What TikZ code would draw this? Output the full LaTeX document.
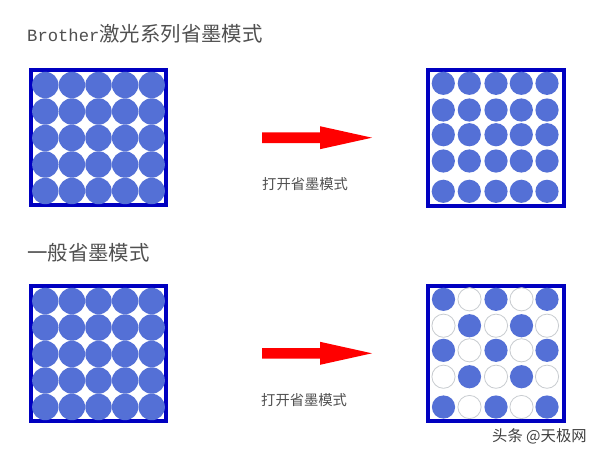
\documentclass[tikz,border=0pt]{standalone}
\usepackage{xcolor}
\usepackage{fontspec}
\setmainfont{Noto Sans CJK SC}
\newfontfamily\latinmono{Liberation Mono}
\definecolor{framecolor}{HTML}{0000C0}
\definecolor{dotcolor}{HTML}{5470D6}
\definecolor{ringcolor}{HTML}{C8CCD0}
\definecolor{textcolor}{HTML}{505050}

\begin{document}
\begin{tikzpicture}[x=1pt, y=-1pt,
    inkframe/.style={draw=framecolor, line width=4pt},
    inkdot/.style={fill=dotcolor},
    emptydot/.style={draw=ringcolor, line width=0.8pt, fill=white},
    redarrow/.style={fill=red},
    heading/.style={text=textcolor, font=\fontsize{20.4}{21}\selectfont, inner sep=0pt, anchor=west},
    caption/.style={text=textcolor, font=\fontsize{14.3}{15}\selectfont, inner sep=0pt, anchor=west},
    watermark/.style={text=black!75, font=\fontsize{15.3}{16}\selectfont, inner sep=0pt, anchor=west}
    ]
    \useasboundingbox (0,0) rectangle (600,456);
    \fill[white] (0,0) rectangle (600,456);

    \node[heading] (titletop) at (27,34) {{\latinmono\fontsize{17.2}{21}\selectfont Brother}激光系列省墨模式};
    \node[heading] (titlebottom) at (27,253) {一般省墨模式};
    \node[caption] (captiontop) at (262,184) {打开省墨模式};
    \node[caption] (captionbottom) at (261,400) {打开省墨模式};
    \node[watermark] (mark) at (492,436) {头条 @天极网};

    \draw[inkframe] (31,70) rectangle (166,205);
    \foreach \x in {45.3,71.9,98.5,125.1,151.7}
      \foreach \y in {85,111.5,138,164.5,191}
        \fill[inkdot] (\x,\y) circle (13.2);

    \draw[inkframe] (428,70) rectangle (564,205.5);
    \foreach \x in {443.3,469.3,496,521.3,547}
      \foreach \y in {83.3,110,134.7,161,191.3}
        \fill[inkdot] (\x,\y) circle (11.6);

    \draw[inkframe] (31,286) rectangle (166,421);
    \foreach \x in {45.3,71.9,98.5,125.1,151.7}
      \foreach \y in {301,327.5,354,380.5,407}
        \fill[inkdot] (\x,\y) circle (13.2);

    \draw[inkframe] (428,286) rectangle (564,421);
    \foreach \x [count=\i] in {443.5,469.5,496,521.5,547}
      \foreach \y [count=\j] in {299.3,325.7,350.3,376.7,407} {
        \pgfmathparse{int(mod(\i+\j,2))}
        \ifnum\pgfmathresult=0
          \fill[inkdot] (\x,\y) circle (11.6);
        \else
          \draw[emptydot] (\x,\y) circle (11.6);
        \fi
      }

    \fill[redarrow] (262,132.4) -- (320,132.4) -- (320,126.2) -- (372,137.7) -- (320,149.2) -- (320,143) -- (262,143) -- cycle;
    \fill[redarrow] (262,348) -- (320,348) -- (320,341.8) -- (372,353.3) -- (320,364.8) -- (320,358.6) -- (262,358.6) -- cycle;
  \end{tikzpicture}
\end{document}
